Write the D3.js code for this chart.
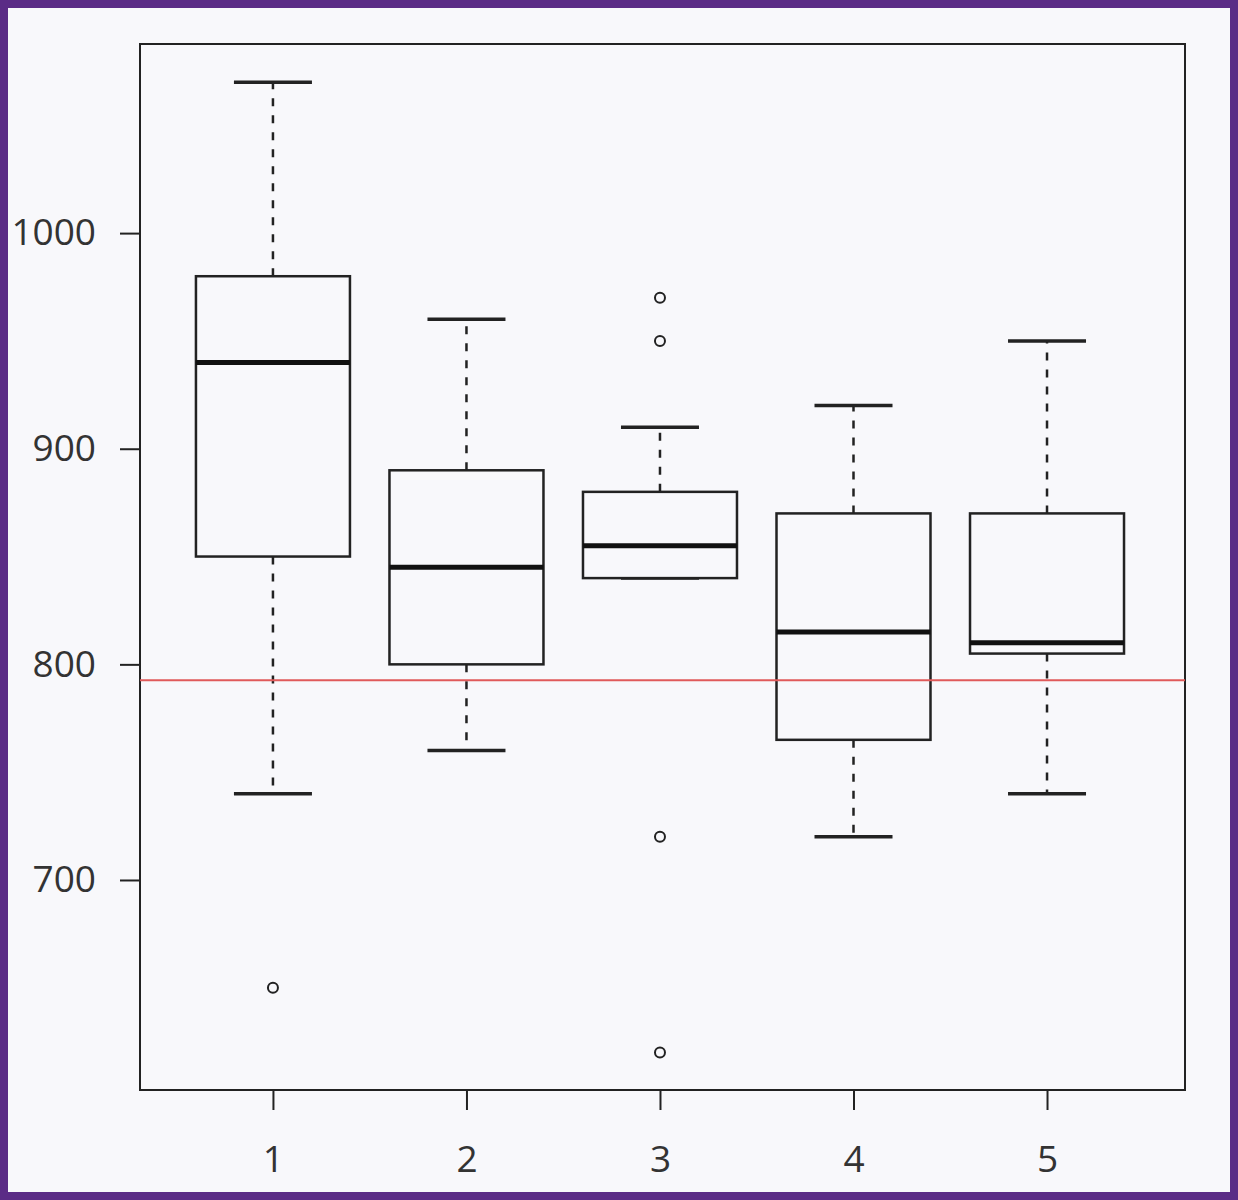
<!DOCTYPE html>
<html><head><meta charset="utf-8">
<script src="https://cdn.jsdelivr.net/npm/d3@7"></script>
<style>body{margin:0;background:#5b2c86;}svg{display:block}</style>
</head><body>
<svg id="c" width="1238" height="1200"></svg>
<script>
const categories = [1, 2, 3, 4, 5];
const whiskerLow  = [740, 760, 840, 720, 740];
const q1          = [850, 800, 840, 765, 805];
const medians     = [940, 845, 855, 815, 810];
const q3          = [980, 890, 880, 870, 870];
const whiskerHigh = [1070, 960, 910, 920, 950];
const outliers    = [[650], [], [970, 950, 720, 620], [], []];
const yTicks = [700, 800, 900, 1000];
const refLine = 792.6;

const svg = d3.select("#c");
svg.append("rect").attr("x",8).attr("y",8).attr("width",1222).attr("height",1184).attr("fill","#f8f8fb");
const x = d3.scaleLinear().domain([0.313, 5.713]).range([140, 1185]);
const y = d3.scaleLinear().domain([602.6, 1087.7]).range([1090, 44]);
const boxW = 154, capW = 78;
const font = "'Open Sans', sans-serif";

svg.append("rect").attr("x",140).attr("y",44).attr("width",1045).attr("height",1046)
  .attr("fill","none").attr("stroke","#222").attr("stroke-width",2);

const ya = svg.append("g").attr("transform","translate(140,0)")
  .call(d3.axisLeft(y).tickValues(yTicks).tickSize(20).tickPadding(24).tickFormat(d3.format("d")));
const xa = svg.append("g").attr("transform","translate(0,1090)")
  .call(d3.axisBottom(x).tickValues(categories).tickSize(20).tickPadding(36).tickFormat(d3.format("d")));
[ya, xa].forEach(a => {
  a.select(".domain").remove();
  a.selectAll("line").attr("stroke","#222").attr("stroke-width",2);
  a.selectAll("text").attr("font-family",font).attr("font-size",37).attr("fill","#333");
});
ya.selectAll("text").attr("dx", "0").attr("dy","0.32em");

const g = svg.append("g");
categories.forEach((c, i) => {
  const cx = x(c);
  g.append("line").attr("x1",cx).attr("x2",cx).attr("y1",y(q3[i])).attr("y2",y(whiskerHigh[i]))
    .attr("stroke","#222").attr("stroke-width",2.5).attr("stroke-dasharray","8,9");
  g.append("line").attr("x1",cx).attr("x2",cx).attr("y1",y(q1[i])).attr("y2",y(whiskerLow[i]))
    .attr("stroke","#222").attr("stroke-width",2.5).attr("stroke-dasharray","8,9");
  [whiskerHigh[i], whiskerLow[i]].forEach(v =>
    g.append("line").attr("x1",cx-capW/2).attr("x2",cx+capW/2).attr("y1",y(v)).attr("y2",y(v))
      .attr("stroke","#222").attr("stroke-width",3.5));
  g.append("rect").attr("x",cx-boxW/2).attr("y",y(q3[i])).attr("width",boxW)
    .attr("height",y(q1[i])-y(q3[i])).attr("fill","#f8f8fb").attr("stroke","#222").attr("stroke-width",2.5);
  g.append("line").attr("x1",cx-boxW/2).attr("x2",cx+boxW/2).attr("y1",y(medians[i])).attr("y2",y(medians[i]))
    .attr("stroke","#111").attr("stroke-width",5);
  outliers[i].forEach(v =>
    g.append("circle").attr("cx",cx).attr("cy",y(v)).attr("r",5).attr("fill","none")
      .attr("stroke","#222").attr("stroke-width",2));
});
svg.append("line").attr("x1",140).attr("x2",1185).attr("y1",y(refLine)).attr("y2",y(refLine))
  .attr("stroke","#e05a5a").attr("stroke-width",2);
</script>
</body></html>
